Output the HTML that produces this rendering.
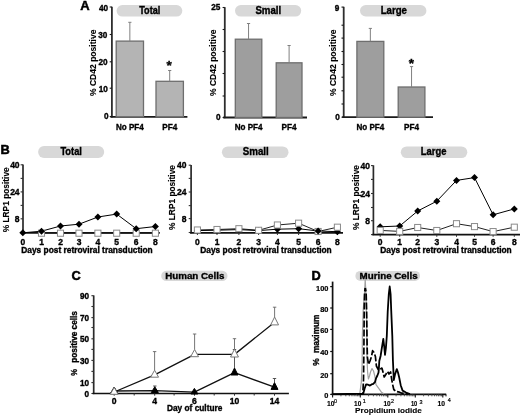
<!DOCTYPE html>
<html><head><meta charset="utf-8"><style>
html,body{margin:0;padding:0;background:#fff;width:520px;height:415px;overflow:hidden}
svg{display:block}
text{font-family:"Liberation Sans", sans-serif;stroke:#000;stroke-width:0.35px}
svg{will-change:transform}
</style></head><body>
<svg width="520" height="415" viewBox="0 0 520 415">
<rect width="520" height="415" fill="#fff"/>
<text x="80.20" y="10.20" font-size="13.0" font-weight="bold" fill="#000" style="stroke-width:0.5px">A</text>
<line x1="111.90" y1="6.70" x2="111.90" y2="117.50" stroke="#2e2e2e" stroke-width="1.8" />
<line x1="109.70" y1="7.00" x2="111.90" y2="7.00" stroke="#1a1a1a" stroke-width="1.1" />
<line x1="109.70" y1="34.50" x2="111.90" y2="34.50" stroke="#1a1a1a" stroke-width="1.1" />
<line x1="109.70" y1="61.80" x2="111.90" y2="61.80" stroke="#1a1a1a" stroke-width="1.1" />
<line x1="109.70" y1="88.20" x2="111.90" y2="88.20" stroke="#1a1a1a" stroke-width="1.1" />
<line x1="109.70" y1="116.50" x2="111.90" y2="116.50" stroke="#1a1a1a" stroke-width="1.1" />
<text x="108.00" y="10.60" font-size="8.2" font-weight="bold" fill="#000" text-anchor="end" >40</text>
<text x="107.30" y="37.90" font-size="8.2" font-weight="bold" fill="#000" text-anchor="end" >30</text>
<text x="107.50" y="65.30" font-size="8.2" font-weight="bold" fill="#000" text-anchor="end" >20</text>
<text x="107.80" y="91.70" font-size="8.2" font-weight="bold" fill="#000" text-anchor="end" >10</text>
<text x="108.60" y="119.00" font-size="8.2" font-weight="bold" fill="#000" text-anchor="end" >0</text>
<line x1="110.40" y1="116.80" x2="187.40" y2="116.80" stroke="#1a1a1a" stroke-width="1.8" />
<rect x="116.20" y="41.10" width="27.30" height="75.70" fill="#b4b4b4" stroke="#6e6e6e" stroke-width="1.3"/>
<line x1="129.85" y1="22.30" x2="129.85" y2="41.10" stroke="#808080" stroke-width="1.0" />
<line x1="128.25" y1="22.30" x2="131.45" y2="22.30" stroke="#808080" stroke-width="1.0" />
<rect x="156.00" y="81.30" width="27.40" height="35.50" fill="#b4b4b4" stroke="#6e6e6e" stroke-width="1.3"/>
<line x1="169.70" y1="70.50" x2="169.70" y2="81.30" stroke="#808080" stroke-width="1.0" />
<line x1="168.10" y1="70.50" x2="171.30" y2="70.50" stroke="#808080" stroke-width="1.0" />
<text x="169.05" y="69.80" font-size="13.5" font-weight="bold" fill="#000" text-anchor="middle" >*</text>
<rect x="116.60" y="5.00" width="65.70" height="11.60" rx="5.80" fill="#d8d8d8"/>
<text x="139.20" y="13.80" font-size="10.0" font-weight="bold" fill="#000" textLength="21.10" lengthAdjust="spacingAndGlyphs" >Total</text>
<text x="96.00" y="62.80" font-size="8.5" font-weight="bold" fill="#000" text-anchor="middle" textLength="66.40" lengthAdjust="spacingAndGlyphs" transform="rotate(-90 96.00 62.80)" style="stroke-width:0.1px">% CD42 positive</text>
<text x="129.85" y="129.50" font-size="8.6" font-weight="bold" fill="#000" text-anchor="middle" textLength="27.80" lengthAdjust="spacingAndGlyphs" >No PF4</text>
<text x="169.70" y="129.50" font-size="8.6" font-weight="bold" fill="#000" text-anchor="middle" textLength="15.00" lengthAdjust="spacingAndGlyphs" >PF4</text>
<line x1="224.80" y1="7.20" x2="224.80" y2="118.20" stroke="#2e2e2e" stroke-width="1.8" />
<line x1="222.60" y1="7.50" x2="224.80" y2="7.50" stroke="#1a1a1a" stroke-width="1.1" />
<line x1="222.60" y1="29.50" x2="224.80" y2="29.50" stroke="#1a1a1a" stroke-width="1.1" />
<line x1="222.60" y1="51.50" x2="224.80" y2="51.50" stroke="#1a1a1a" stroke-width="1.1" />
<line x1="222.60" y1="73.50" x2="224.80" y2="73.50" stroke="#1a1a1a" stroke-width="1.1" />
<line x1="222.60" y1="96.00" x2="224.80" y2="96.00" stroke="#1a1a1a" stroke-width="1.1" />
<line x1="222.60" y1="117.50" x2="224.80" y2="117.50" stroke="#1a1a1a" stroke-width="1.1" />
<text x="220.30" y="10.30" font-size="8.2" font-weight="bold" fill="#000" text-anchor="end" >25</text>
<text x="220.60" y="119.70" font-size="8.2" font-weight="bold" fill="#000" text-anchor="end" >0</text>
<line x1="223.30" y1="117.50" x2="307.00" y2="117.50" stroke="#1a1a1a" stroke-width="1.8" />
<rect x="235.30" y="39.20" width="26.50" height="78.30" fill="#9e9e9e" stroke="#6e6e6e" stroke-width="1.3"/>
<line x1="248.55" y1="23.50" x2="248.55" y2="39.20" stroke="#808080" stroke-width="1.0" />
<line x1="246.95" y1="23.50" x2="250.15" y2="23.50" stroke="#808080" stroke-width="1.0" />
<rect x="276.20" y="62.80" width="25.80" height="54.70" fill="#9e9e9e" stroke="#6e6e6e" stroke-width="1.3"/>
<line x1="289.10" y1="45.50" x2="289.10" y2="62.80" stroke="#808080" stroke-width="1.0" />
<line x1="287.50" y1="45.50" x2="290.70" y2="45.50" stroke="#808080" stroke-width="1.0" />
<rect x="235.00" y="5.10" width="66.20" height="11.50" rx="5.75" fill="#d8d8d8"/>
<text x="255.40" y="13.80" font-size="10.0" font-weight="bold" fill="#000" textLength="25.80" lengthAdjust="spacingAndGlyphs" >Small</text>
<text x="216.00" y="62.80" font-size="8.5" font-weight="bold" fill="#000" text-anchor="middle" textLength="66.40" lengthAdjust="spacingAndGlyphs" transform="rotate(-90 216.00 62.80)" style="stroke-width:0.1px">% CD42 positive</text>
<text x="248.55" y="129.50" font-size="8.6" font-weight="bold" fill="#000" text-anchor="middle" textLength="27.80" lengthAdjust="spacingAndGlyphs" >No PF4</text>
<text x="289.10" y="129.50" font-size="8.6" font-weight="bold" fill="#000" text-anchor="middle" textLength="15.00" lengthAdjust="spacingAndGlyphs" >PF4</text>
<line x1="343.70" y1="6.80" x2="343.70" y2="117.90" stroke="#2e2e2e" stroke-width="1.8" />
<line x1="341.50" y1="7.10" x2="343.70" y2="7.10" stroke="#1a1a1a" stroke-width="1.1" />
<line x1="341.50" y1="25.20" x2="343.70" y2="25.20" stroke="#1a1a1a" stroke-width="1.1" />
<line x1="341.50" y1="38.10" x2="343.70" y2="38.10" stroke="#1a1a1a" stroke-width="1.1" />
<line x1="341.50" y1="51.50" x2="343.70" y2="51.50" stroke="#1a1a1a" stroke-width="1.1" />
<line x1="341.50" y1="64.50" x2="343.70" y2="64.50" stroke="#1a1a1a" stroke-width="1.1" />
<line x1="341.50" y1="77.20" x2="343.70" y2="77.20" stroke="#1a1a1a" stroke-width="1.1" />
<line x1="341.50" y1="90.80" x2="343.70" y2="90.80" stroke="#1a1a1a" stroke-width="1.1" />
<line x1="341.50" y1="104.00" x2="343.70" y2="104.00" stroke="#1a1a1a" stroke-width="1.1" />
<line x1="341.50" y1="117.20" x2="343.70" y2="117.20" stroke="#1a1a1a" stroke-width="1.1" />
<text x="339.40" y="10.60" font-size="8.2" font-weight="bold" fill="#000" text-anchor="end" >9</text>
<text x="339.70" y="119.50" font-size="8.2" font-weight="bold" fill="#000" text-anchor="end" >0</text>
<line x1="342.20" y1="117.20" x2="433.00" y2="117.20" stroke="#1a1a1a" stroke-width="1.8" />
<rect x="356.90" y="41.40" width="26.90" height="75.80" fill="#9e9e9e" stroke="#6e6e6e" stroke-width="1.3"/>
<line x1="370.35" y1="28.40" x2="370.35" y2="41.40" stroke="#808080" stroke-width="1.0" />
<line x1="368.75" y1="28.40" x2="371.95" y2="28.40" stroke="#808080" stroke-width="1.0" />
<rect x="398.20" y="87.00" width="26.70" height="30.20" fill="#9e9e9e" stroke="#6e6e6e" stroke-width="1.3"/>
<line x1="411.55" y1="66.60" x2="411.55" y2="87.00" stroke="#808080" stroke-width="1.0" />
<line x1="409.95" y1="66.60" x2="413.15" y2="66.60" stroke="#808080" stroke-width="1.0" />
<text x="411.45" y="68.30" font-size="13.5" font-weight="bold" fill="#000" text-anchor="middle" >*</text>
<rect x="360.00" y="5.00" width="66.40" height="11.50" rx="5.75" fill="#d8d8d8"/>
<text x="380.70" y="13.60" font-size="10.0" font-weight="bold" fill="#000" textLength="26.30" lengthAdjust="spacingAndGlyphs" >Large</text>
<text x="336.00" y="62.80" font-size="8.5" font-weight="bold" fill="#000" text-anchor="middle" textLength="66.40" lengthAdjust="spacingAndGlyphs" transform="rotate(-90 336.00 62.80)" style="stroke-width:0.1px">% CD42 positive</text>
<text x="370.35" y="129.50" font-size="8.6" font-weight="bold" fill="#000" text-anchor="middle" textLength="27.80" lengthAdjust="spacingAndGlyphs" >No PF4</text>
<text x="411.55" y="129.50" font-size="8.6" font-weight="bold" fill="#000" text-anchor="middle" textLength="15.00" lengthAdjust="spacingAndGlyphs" >PF4</text>
<text x="0.40" y="153.60" font-size="12.8" font-weight="bold" fill="#000" style="stroke-width:0.5px">B</text>
<line x1="23.00" y1="164.50" x2="23.00" y2="233.40" stroke="#2a2a2a" stroke-width="1.7" />
<line x1="20.60" y1="164.80" x2="23.00" y2="164.80" stroke="#333" stroke-width="1.1" />
<line x1="20.60" y1="178.40" x2="23.00" y2="178.40" stroke="#333" stroke-width="1.1" />
<line x1="20.60" y1="191.90" x2="23.00" y2="191.90" stroke="#333" stroke-width="1.1" />
<line x1="20.60" y1="205.40" x2="23.00" y2="205.40" stroke="#333" stroke-width="1.1" />
<line x1="20.60" y1="218.80" x2="23.00" y2="218.80" stroke="#333" stroke-width="1.1" />
<line x1="20.60" y1="232.60" x2="23.00" y2="232.60" stroke="#333" stroke-width="1.1" />
<text x="19.60" y="167.80" font-size="8.5" font-weight="bold" fill="#000" text-anchor="end" >40</text>
<text x="19.60" y="194.90" font-size="8.5" font-weight="bold" fill="#000" text-anchor="end" >24</text>
<text x="19.60" y="221.80" font-size="8.5" font-weight="bold" fill="#000" text-anchor="end" >8</text>
<line x1="22.00" y1="232.90" x2="159.80" y2="232.90" stroke="#111" stroke-width="1.8" />
<line x1="22.80" y1="232.90" x2="22.80" y2="235.10" stroke="#333" stroke-width="1.0" />
<line x1="41.50" y1="232.90" x2="41.50" y2="235.10" stroke="#333" stroke-width="1.0" />
<line x1="60.50" y1="232.90" x2="60.50" y2="235.10" stroke="#333" stroke-width="1.0" />
<line x1="79.00" y1="232.90" x2="79.00" y2="235.10" stroke="#333" stroke-width="1.0" />
<line x1="97.90" y1="232.90" x2="97.90" y2="235.10" stroke="#333" stroke-width="1.0" />
<line x1="116.70" y1="232.90" x2="116.70" y2="235.10" stroke="#333" stroke-width="1.0" />
<line x1="136.20" y1="232.90" x2="136.20" y2="235.10" stroke="#333" stroke-width="1.0" />
<line x1="155.40" y1="232.90" x2="155.40" y2="235.10" stroke="#333" stroke-width="1.0" />
<text x="22.80" y="244.90" font-size="8.5" font-weight="bold" fill="#000" text-anchor="middle" >0</text>
<text x="41.50" y="244.90" font-size="8.5" font-weight="bold" fill="#000" text-anchor="middle" >1</text>
<text x="60.50" y="244.90" font-size="8.5" font-weight="bold" fill="#000" text-anchor="middle" >2</text>
<text x="79.00" y="244.90" font-size="8.5" font-weight="bold" fill="#000" text-anchor="middle" >3</text>
<text x="97.90" y="244.90" font-size="8.5" font-weight="bold" fill="#000" text-anchor="middle" >4</text>
<text x="116.70" y="244.90" font-size="8.5" font-weight="bold" fill="#000" text-anchor="middle" >5</text>
<text x="136.20" y="244.90" font-size="8.5" font-weight="bold" fill="#000" text-anchor="middle" >6</text>
<text x="155.40" y="244.90" font-size="8.5" font-weight="bold" fill="#000" text-anchor="middle" >8</text>
<text x="21.30" y="252.70" font-size="8.35" font-weight="bold" fill="#000" textLength="131.40" lengthAdjust="spacingAndGlyphs" >Days post retroviral transduction</text>
<polyline points="41.50,233.20 60.50,233.20 79.00,233.20 97.90,233.20 116.70,233.20 136.20,233.20 155.40,233.20" fill="none" stroke="#222" stroke-width="1.0" stroke-linejoin="round" />
<polyline points="22.80,232.80 41.50,231.20 60.50,226.00 79.00,224.20 97.90,217.00 116.70,214.10 136.20,228.70 155.40,226.50" fill="none" stroke="#000" stroke-width="1.0" stroke-linejoin="round" />
<rect x="38.45" y="230.15" width="6.10" height="6.10" fill="#fff" stroke="#8a8a8a" stroke-width="1"/>
<rect x="57.45" y="230.15" width="6.10" height="6.10" fill="#fff" stroke="#8a8a8a" stroke-width="1"/>
<rect x="75.95" y="230.15" width="6.10" height="6.10" fill="#fff" stroke="#8a8a8a" stroke-width="1"/>
<rect x="94.85" y="230.15" width="6.10" height="6.10" fill="#fff" stroke="#8a8a8a" stroke-width="1"/>
<rect x="113.65" y="230.15" width="6.10" height="6.10" fill="#fff" stroke="#8a8a8a" stroke-width="1"/>
<rect x="133.15" y="230.15" width="6.10" height="6.10" fill="#fff" stroke="#8a8a8a" stroke-width="1"/>
<rect x="152.35" y="230.15" width="6.10" height="6.10" fill="#fff" stroke="#8a8a8a" stroke-width="1"/>
<path d="M22.80 229.30L26.30 232.80L22.80 236.30L19.30 232.80Z" fill="#000"/>
<path d="M41.50 227.70L45.00 231.20L41.50 234.70L38.00 231.20Z" fill="#000"/>
<path d="M60.50 222.50L64.00 226.00L60.50 229.50L57.00 226.00Z" fill="#000"/>
<path d="M79.00 220.70L82.50 224.20L79.00 227.70L75.50 224.20Z" fill="#000"/>
<path d="M97.90 213.50L101.40 217.00L97.90 220.50L94.40 217.00Z" fill="#000"/>
<path d="M116.70 210.60L120.20 214.10L116.70 217.60L113.20 214.10Z" fill="#000"/>
<path d="M136.20 225.20L139.70 228.70L136.20 232.20L132.70 228.70Z" fill="#000"/>
<path d="M155.40 223.00L158.90 226.50L155.40 230.00L151.90 226.50Z" fill="#000"/>
<rect x="38.10" y="146.10" width="66.10" height="11.80" rx="5.90" fill="#d8d8d8"/>
<text x="60.40" y="154.80" font-size="10.0" font-weight="bold" fill="#000" textLength="21.50" lengthAdjust="spacingAndGlyphs" >Total</text>
<text x="9.40" y="199.80" font-size="8.6" font-weight="bold" fill="#000" text-anchor="middle" textLength="65.00" lengthAdjust="spacingAndGlyphs" transform="rotate(-90 9.40 199.80)" style="stroke-width:0.15px">% LRP1 positive</text>
<line x1="191.10" y1="164.90" x2="191.10" y2="233.30" stroke="#2a2a2a" stroke-width="1.7" />
<line x1="188.70" y1="165.20" x2="191.10" y2="165.20" stroke="#333" stroke-width="1.1" />
<line x1="188.70" y1="178.40" x2="191.10" y2="178.40" stroke="#333" stroke-width="1.1" />
<line x1="188.70" y1="192.00" x2="191.10" y2="192.00" stroke="#333" stroke-width="1.1" />
<line x1="188.70" y1="205.60" x2="191.10" y2="205.60" stroke="#333" stroke-width="1.1" />
<line x1="188.70" y1="218.60" x2="191.10" y2="218.60" stroke="#333" stroke-width="1.1" />
<line x1="188.70" y1="232.50" x2="191.10" y2="232.50" stroke="#333" stroke-width="1.1" />
<text x="186.50" y="168.20" font-size="8.5" font-weight="bold" fill="#000" text-anchor="end" >40</text>
<text x="186.50" y="195.00" font-size="8.5" font-weight="bold" fill="#000" text-anchor="end" >24</text>
<text x="186.50" y="221.60" font-size="8.5" font-weight="bold" fill="#000" text-anchor="end" >8</text>
<line x1="190.10" y1="232.80" x2="343.00" y2="232.80" stroke="#111" stroke-width="1.8" />
<line x1="197.40" y1="232.80" x2="197.40" y2="235.00" stroke="#333" stroke-width="1.0" />
<line x1="217.00" y1="232.80" x2="217.00" y2="235.00" stroke="#333" stroke-width="1.0" />
<line x1="238.90" y1="232.80" x2="238.90" y2="235.00" stroke="#333" stroke-width="1.0" />
<line x1="258.60" y1="232.80" x2="258.60" y2="235.00" stroke="#333" stroke-width="1.0" />
<line x1="277.40" y1="232.80" x2="277.40" y2="235.00" stroke="#333" stroke-width="1.0" />
<line x1="298.60" y1="232.80" x2="298.60" y2="235.00" stroke="#333" stroke-width="1.0" />
<line x1="318.10" y1="232.80" x2="318.10" y2="235.00" stroke="#333" stroke-width="1.0" />
<line x1="337.40" y1="232.80" x2="337.40" y2="235.00" stroke="#333" stroke-width="1.0" />
<text x="197.40" y="244.90" font-size="8.5" font-weight="bold" fill="#000" text-anchor="middle" >0</text>
<text x="217.00" y="244.90" font-size="8.5" font-weight="bold" fill="#000" text-anchor="middle" >1</text>
<text x="238.90" y="244.90" font-size="8.5" font-weight="bold" fill="#000" text-anchor="middle" >2</text>
<text x="258.60" y="244.90" font-size="8.5" font-weight="bold" fill="#000" text-anchor="middle" >3</text>
<text x="277.40" y="244.90" font-size="8.5" font-weight="bold" fill="#000" text-anchor="middle" >4</text>
<text x="298.60" y="244.90" font-size="8.5" font-weight="bold" fill="#000" text-anchor="middle" >5</text>
<text x="318.10" y="244.90" font-size="8.5" font-weight="bold" fill="#000" text-anchor="middle" >6</text>
<text x="337.40" y="244.90" font-size="8.5" font-weight="bold" fill="#000" text-anchor="middle" >8</text>
<text x="200.30" y="252.70" font-size="8.35" font-weight="bold" fill="#000" textLength="131.40" lengthAdjust="spacingAndGlyphs" >Days post retroviral transduction</text>
<polyline points="197.40,230.00 217.00,229.50 238.90,228.70 258.60,230.30 277.40,225.00 298.60,223.20 318.10,231.50 337.40,227.20" fill="none" stroke="#222" stroke-width="1.0" stroke-linejoin="round" />
<polyline points="197.40,230.60 217.00,230.20 238.90,229.60 258.60,230.60 277.40,229.20 298.60,228.70 318.10,231.00 337.40,231.70" fill="none" stroke="#000" stroke-width="1.0" stroke-linejoin="round" />
<path d="M197.40 227.10L200.90 230.60L197.40 234.10L193.90 230.60Z" fill="#000"/>
<path d="M217.00 226.70L220.50 230.20L217.00 233.70L213.50 230.20Z" fill="#000"/>
<path d="M238.90 226.10L242.40 229.60L238.90 233.10L235.40 229.60Z" fill="#000"/>
<path d="M258.60 227.10L262.10 230.60L258.60 234.10L255.10 230.60Z" fill="#000"/>
<path d="M277.40 225.70L280.90 229.20L277.40 232.70L273.90 229.20Z" fill="#000"/>
<path d="M298.60 225.20L302.10 228.70L298.60 232.20L295.10 228.70Z" fill="#000"/>
<path d="M337.40 228.20L340.90 231.70L337.40 235.20L333.90 231.70Z" fill="#000"/>
<rect x="194.35" y="226.95" width="6.10" height="6.10" fill="#fff" stroke="#8a8a8a" stroke-width="1"/>
<rect x="213.95" y="226.45" width="6.10" height="6.10" fill="#fff" stroke="#8a8a8a" stroke-width="1"/>
<rect x="235.85" y="225.65" width="6.10" height="6.10" fill="#fff" stroke="#8a8a8a" stroke-width="1"/>
<rect x="255.55" y="227.25" width="6.10" height="6.10" fill="#fff" stroke="#8a8a8a" stroke-width="1"/>
<rect x="274.35" y="221.95" width="6.10" height="6.10" fill="#fff" stroke="#8a8a8a" stroke-width="1"/>
<rect x="295.55" y="220.15" width="6.10" height="6.10" fill="#fff" stroke="#8a8a8a" stroke-width="1"/>
<rect x="315.05" y="228.45" width="6.10" height="6.10" fill="#fff" stroke="#8a8a8a" stroke-width="1"/>
<rect x="334.35" y="224.15" width="6.10" height="6.10" fill="#fff" stroke="#8a8a8a" stroke-width="1"/>
<path d="M318.10 227.50L321.60 231.00L318.10 234.50L314.60 231.00Z" fill="#000"/>
<rect x="221.90" y="146.40" width="66.60" height="11.70" rx="5.85" fill="#d8d8d8"/>
<text x="242.70" y="155.00" font-size="10.0" font-weight="bold" fill="#000" textLength="26.10" lengthAdjust="spacingAndGlyphs" >Small</text>
<text x="175.40" y="197.50" font-size="8.6" font-weight="bold" fill="#000" text-anchor="middle" textLength="65.00" lengthAdjust="spacingAndGlyphs" transform="rotate(-90 175.40 197.50)" style="stroke-width:0.15px">% LRP1 positive</text>
<line x1="373.40" y1="165.30" x2="373.40" y2="235.10" stroke="#2a2a2a" stroke-width="1.7" />
<line x1="371.00" y1="165.60" x2="373.40" y2="165.60" stroke="#333" stroke-width="1.1" />
<line x1="371.00" y1="179.40" x2="373.40" y2="179.40" stroke="#333" stroke-width="1.1" />
<line x1="371.00" y1="193.50" x2="373.40" y2="193.50" stroke="#333" stroke-width="1.1" />
<line x1="371.00" y1="207.50" x2="373.40" y2="207.50" stroke="#333" stroke-width="1.1" />
<line x1="371.00" y1="220.70" x2="373.40" y2="220.70" stroke="#333" stroke-width="1.1" />
<line x1="371.00" y1="234.60" x2="373.40" y2="234.60" stroke="#333" stroke-width="1.1" />
<text x="370.00" y="168.60" font-size="8.5" font-weight="bold" fill="#000" text-anchor="end" >40</text>
<text x="370.00" y="196.50" font-size="8.5" font-weight="bold" fill="#000" text-anchor="end" >24</text>
<text x="370.00" y="223.70" font-size="8.5" font-weight="bold" fill="#000" text-anchor="end" >8</text>
<line x1="372.40" y1="234.60" x2="520.00" y2="234.60" stroke="#111" stroke-width="1.8" />
<line x1="380.20" y1="234.60" x2="380.20" y2="236.80" stroke="#333" stroke-width="1.0" />
<line x1="399.70" y1="234.60" x2="399.70" y2="236.80" stroke="#333" stroke-width="1.0" />
<line x1="417.70" y1="234.60" x2="417.70" y2="236.80" stroke="#333" stroke-width="1.0" />
<line x1="436.80" y1="234.60" x2="436.80" y2="236.80" stroke="#333" stroke-width="1.0" />
<line x1="456.50" y1="234.60" x2="456.50" y2="236.80" stroke="#333" stroke-width="1.0" />
<line x1="474.50" y1="234.60" x2="474.50" y2="236.80" stroke="#333" stroke-width="1.0" />
<line x1="493.10" y1="234.60" x2="493.10" y2="236.80" stroke="#333" stroke-width="1.0" />
<line x1="514.30" y1="234.60" x2="514.30" y2="236.80" stroke="#333" stroke-width="1.0" />
<text x="380.20" y="244.90" font-size="8.5" font-weight="bold" fill="#000" text-anchor="middle" >0</text>
<text x="399.70" y="244.90" font-size="8.5" font-weight="bold" fill="#000" text-anchor="middle" >1</text>
<text x="417.70" y="244.90" font-size="8.5" font-weight="bold" fill="#000" text-anchor="middle" >2</text>
<text x="436.80" y="244.90" font-size="8.5" font-weight="bold" fill="#000" text-anchor="middle" >3</text>
<text x="456.50" y="244.90" font-size="8.5" font-weight="bold" fill="#000" text-anchor="middle" >4</text>
<text x="474.50" y="244.90" font-size="8.5" font-weight="bold" fill="#000" text-anchor="middle" >5</text>
<text x="493.10" y="244.90" font-size="8.5" font-weight="bold" fill="#000" text-anchor="middle" >6</text>
<text x="514.30" y="244.90" font-size="8.5" font-weight="bold" fill="#000" text-anchor="middle" >8</text>
<text x="380.30" y="252.70" font-size="8.35" font-weight="bold" fill="#000" textLength="131.40" lengthAdjust="spacingAndGlyphs" >Days post retroviral transduction</text>
<polyline points="380.20,230.40 399.70,231.40 417.70,227.50 436.80,230.50 456.50,223.70 474.50,226.60 493.10,231.60 514.30,227.20" fill="none" stroke="#222" stroke-width="1.0" stroke-linejoin="round" />
<polyline points="380.20,226.80 399.70,226.00 417.70,211.00 436.80,201.20 456.50,180.40 474.50,177.60 493.10,214.80 514.30,208.90" fill="none" stroke="#000" stroke-width="1.0" stroke-linejoin="round" />
<path d="M380.20 223.30L383.70 226.80L380.20 230.30L376.70 226.80Z" fill="#000"/>
<path d="M399.70 222.50L403.20 226.00L399.70 229.50L396.20 226.00Z" fill="#000"/>
<path d="M417.70 207.50L421.20 211.00L417.70 214.50L414.20 211.00Z" fill="#000"/>
<path d="M436.80 197.70L440.30 201.20L436.80 204.70L433.30 201.20Z" fill="#000"/>
<path d="M456.50 176.90L460.00 180.40L456.50 183.90L453.00 180.40Z" fill="#000"/>
<path d="M474.50 174.10L478.00 177.60L474.50 181.10L471.00 177.60Z" fill="#000"/>
<path d="M493.10 211.30L496.60 214.80L493.10 218.30L489.60 214.80Z" fill="#000"/>
<path d="M514.30 205.40L517.80 208.90L514.30 212.40L510.80 208.90Z" fill="#000"/>
<rect x="377.15" y="227.35" width="6.10" height="6.10" fill="#fff" stroke="#8a8a8a" stroke-width="1"/>
<rect x="396.65" y="228.35" width="6.10" height="6.10" fill="#fff" stroke="#8a8a8a" stroke-width="1"/>
<rect x="414.65" y="224.45" width="6.10" height="6.10" fill="#fff" stroke="#8a8a8a" stroke-width="1"/>
<rect x="433.75" y="227.45" width="6.10" height="6.10" fill="#fff" stroke="#8a8a8a" stroke-width="1"/>
<rect x="453.45" y="220.65" width="6.10" height="6.10" fill="#fff" stroke="#8a8a8a" stroke-width="1"/>
<rect x="471.45" y="223.55" width="6.10" height="6.10" fill="#fff" stroke="#8a8a8a" stroke-width="1"/>
<rect x="490.05" y="228.55" width="6.10" height="6.10" fill="#fff" stroke="#8a8a8a" stroke-width="1"/>
<rect x="511.25" y="224.15" width="6.10" height="6.10" fill="#fff" stroke="#8a8a8a" stroke-width="1"/>
<rect x="400.80" y="146.40" width="66.50" height="11.70" rx="5.85" fill="#d8d8d8"/>
<text x="420.80" y="155.00" font-size="10.0" font-weight="bold" fill="#000" textLength="25.70" lengthAdjust="spacingAndGlyphs" >Large</text>
<text x="358.90" y="197.50" font-size="8.6" font-weight="bold" fill="#000" text-anchor="middle" textLength="65.00" lengthAdjust="spacingAndGlyphs" transform="rotate(-90 358.90 197.50)" style="stroke-width:0.15px">% LRP1 positive</text>
<text x="71.40" y="280.10" font-size="12.8" font-weight="bold" fill="#000" style="stroke-width:0.5px">C</text>
<line x1="93.70" y1="295.40" x2="93.70" y2="394.10" stroke="#2a2a2a" stroke-width="1.7" />
<line x1="91.40" y1="295.70" x2="93.70" y2="295.70" stroke="#333" stroke-width="1.1" />
<line x1="91.40" y1="306.50" x2="93.70" y2="306.50" stroke="#333" stroke-width="1.1" />
<line x1="91.40" y1="317.60" x2="93.70" y2="317.60" stroke="#333" stroke-width="1.1" />
<line x1="91.40" y1="327.50" x2="93.70" y2="327.50" stroke="#333" stroke-width="1.1" />
<line x1="91.40" y1="338.80" x2="93.70" y2="338.80" stroke="#333" stroke-width="1.1" />
<line x1="91.40" y1="349.40" x2="93.70" y2="349.40" stroke="#333" stroke-width="1.1" />
<line x1="91.40" y1="360.40" x2="93.70" y2="360.40" stroke="#333" stroke-width="1.1" />
<line x1="91.40" y1="371.40" x2="93.70" y2="371.40" stroke="#333" stroke-width="1.1" />
<line x1="91.40" y1="382.60" x2="93.70" y2="382.60" stroke="#333" stroke-width="1.1" />
<line x1="91.40" y1="393.50" x2="93.70" y2="393.50" stroke="#333" stroke-width="1.1" />
<text x="89.10" y="299.20" font-size="8.2" font-weight="bold" fill="#000" text-anchor="end" >90</text>
<text x="89.10" y="321.10" font-size="8.2" font-weight="bold" fill="#000" text-anchor="end" >70</text>
<text x="89.10" y="342.30" font-size="8.2" font-weight="bold" fill="#000" text-anchor="end" >50</text>
<text x="89.10" y="363.90" font-size="8.2" font-weight="bold" fill="#000" text-anchor="end" >30</text>
<text x="89.10" y="386.10" font-size="8.2" font-weight="bold" fill="#000" text-anchor="end" >10</text>
<text x="89.10" y="397.00" font-size="8.2" font-weight="bold" fill="#000" text-anchor="end" >0</text>
<line x1="92.70" y1="393.50" x2="288.90" y2="393.50" stroke="#111" stroke-width="1.5" />
<line x1="114.20" y1="393.50" x2="114.20" y2="395.70" stroke="#333" stroke-width="1.0" />
<line x1="154.70" y1="393.50" x2="154.70" y2="395.70" stroke="#333" stroke-width="1.0" />
<line x1="194.50" y1="393.50" x2="194.50" y2="395.70" stroke="#333" stroke-width="1.0" />
<line x1="234.50" y1="393.50" x2="234.50" y2="395.70" stroke="#333" stroke-width="1.0" />
<line x1="274.50" y1="393.50" x2="274.50" y2="395.70" stroke="#333" stroke-width="1.0" />
<line x1="134.20" y1="393.50" x2="134.20" y2="395.50" stroke="#333" stroke-width="1.0" />
<line x1="174.10" y1="393.50" x2="174.10" y2="395.50" stroke="#333" stroke-width="1.0" />
<line x1="214.20" y1="393.50" x2="214.20" y2="395.50" stroke="#333" stroke-width="1.0" />
<line x1="254.20" y1="393.50" x2="254.20" y2="395.50" stroke="#333" stroke-width="1.0" />
<text x="114.20" y="404.00" font-size="8.6" font-weight="bold" fill="#000" text-anchor="middle" >0</text>
<text x="154.70" y="404.00" font-size="8.6" font-weight="bold" fill="#000" text-anchor="middle" >4</text>
<text x="194.50" y="404.00" font-size="8.6" font-weight="bold" fill="#000" text-anchor="middle" >6</text>
<text x="234.50" y="404.00" font-size="8.6" font-weight="bold" fill="#000" text-anchor="middle" >10</text>
<text x="274.50" y="404.00" font-size="8.6" font-weight="bold" fill="#000" text-anchor="middle" >14</text>
<text x="167.00" y="411.30" font-size="8.3" font-weight="bold" fill="#000" textLength="55.30" lengthAdjust="spacingAndGlyphs" >Day of culture</text>
<polyline points="114.20,392.00 154.60,374.87 194.60,354.30 234.50,354.37 274.60,322.27" fill="none" stroke="#111" stroke-width="1.3" stroke-linejoin="round" />
<polyline points="114.20,391.00 154.80,390.60 194.40,392.13 234.50,372.67 274.50,387.13" fill="none" stroke="#111" stroke-width="1.3" stroke-linejoin="round" />
<line x1="154.60" y1="351.60" x2="154.60" y2="370.20" stroke="#666" stroke-width="0.9" />
<line x1="152.90" y1="351.60" x2="156.30" y2="351.60" stroke="#666" stroke-width="0.9" />
<line x1="194.60" y1="334.00" x2="194.60" y2="349.50" stroke="#666" stroke-width="0.9" />
<line x1="192.90" y1="334.00" x2="196.30" y2="334.00" stroke="#666" stroke-width="0.9" />
<line x1="234.50" y1="338.70" x2="234.50" y2="349.10" stroke="#666" stroke-width="0.9" />
<line x1="232.80" y1="338.70" x2="236.20" y2="338.70" stroke="#666" stroke-width="0.9" />
<line x1="274.60" y1="307.20" x2="274.60" y2="317.00" stroke="#666" stroke-width="0.9" />
<line x1="272.90" y1="307.20" x2="276.30" y2="307.20" stroke="#666" stroke-width="0.9" />
<line x1="154.80" y1="386.00" x2="154.80" y2="386.80" stroke="#444" stroke-width="0.9" />
<line x1="153.10" y1="386.00" x2="156.50" y2="386.00" stroke="#444" stroke-width="0.9" />
<line x1="234.50" y1="349.50" x2="234.50" y2="368.00" stroke="#444" stroke-width="0.9" />
<line x1="232.80" y1="349.50" x2="236.20" y2="349.50" stroke="#444" stroke-width="0.9" />
<line x1="274.50" y1="378.50" x2="274.50" y2="382.60" stroke="#444" stroke-width="0.9" />
<line x1="272.80" y1="378.50" x2="276.20" y2="378.50" stroke="#444" stroke-width="0.9" />
<path d="M114.20 387.00L117.70 393.00L110.70 393.00Z" fill="#000" stroke="#000" stroke-width="1"/>
<path d="M154.80 386.80L158.30 392.50L151.30 392.50Z" fill="#000" stroke="#000" stroke-width="1"/>
<path d="M194.40 388.40L197.90 394.00L190.90 394.00Z" fill="#000" stroke="#000" stroke-width="1"/>
<path d="M234.50 368.00L238.00 375.00L231.00 375.00Z" fill="#000" stroke="#000" stroke-width="1"/>
<path d="M274.50 382.60L278.00 389.40L271.00 389.40Z" fill="#000" stroke="#000" stroke-width="1"/>
<path d="M114.20 387.40L118.15 394.30L110.25 394.30Z" fill="#fff" stroke="#777" stroke-width="1"/>
<path d="M154.60 370.20L158.55 377.20L150.65 377.20Z" fill="#fff" stroke="#777" stroke-width="1"/>
<path d="M194.60 349.50L198.55 356.70L190.65 356.70Z" fill="#fff" stroke="#777" stroke-width="1"/>
<path d="M234.50 349.10L238.45 357.00L230.55 357.00Z" fill="#fff" stroke="#777" stroke-width="1"/>
<path d="M274.60 317.00L278.55 324.90L270.65 324.90Z" fill="#fff" stroke="#777" stroke-width="1"/>
<rect x="161.20" y="270.80" width="66.30" height="10.30" rx="5.15" fill="#d8d8d8"/>
<text x="165.20" y="279.20" font-size="9.4" font-weight="bold" fill="#000" textLength="59.20" lengthAdjust="spacingAndGlyphs" >Human Cells</text>
<text x="76.80" y="336.90" font-size="9.2" font-weight="bold" fill="#000" text-anchor="middle" textLength="51.50" lengthAdjust="spacingAndGlyphs" transform="rotate(-90 76.80 336.90)" >positive cells</text>
<text x="77.20" y="372.30" font-size="9.0" font-weight="bold" fill="#000" text-anchor="middle" textLength="6.80" lengthAdjust="spacingAndGlyphs" transform="rotate(-90 77.20 372.30)" >%</text>
<text x="311.60" y="279.50" font-size="12.8" font-weight="bold" fill="#000" style="stroke-width:0.5px">D</text>
<line x1="332.60" y1="281.60" x2="332.60" y2="395.00" stroke="#111" stroke-width="1.7" />
<line x1="330.20" y1="286.60" x2="332.60" y2="286.60" stroke="#111" stroke-width="1.2" />
<line x1="330.20" y1="308.00" x2="332.60" y2="308.00" stroke="#111" stroke-width="1.2" />
<line x1="330.20" y1="329.40" x2="332.60" y2="329.40" stroke="#111" stroke-width="1.2" />
<line x1="330.20" y1="351.50" x2="332.60" y2="351.50" stroke="#111" stroke-width="1.2" />
<line x1="330.20" y1="373.70" x2="332.60" y2="373.70" stroke="#111" stroke-width="1.2" />
<line x1="330.20" y1="394.40" x2="332.60" y2="394.40" stroke="#111" stroke-width="1.2" />
<text x="328.40" y="290.50" font-size="7.4" font-weight="bold" fill="#000" text-anchor="end" style="stroke-width:0.2px">100</text>
<text x="328.40" y="311.90" font-size="7.4" font-weight="bold" fill="#000" text-anchor="end" style="stroke-width:0.2px">80</text>
<text x="328.40" y="333.30" font-size="7.4" font-weight="bold" fill="#000" text-anchor="end" style="stroke-width:0.2px">60</text>
<text x="328.40" y="355.40" font-size="7.4" font-weight="bold" fill="#000" text-anchor="end" style="stroke-width:0.2px">40</text>
<text x="328.40" y="377.60" font-size="7.4" font-weight="bold" fill="#000" text-anchor="end" style="stroke-width:0.2px">20</text>
<text x="328.40" y="398.30" font-size="7.4" font-weight="bold" fill="#000" text-anchor="end" style="stroke-width:0.2px">0</text>
<line x1="331.60" y1="394.40" x2="446.20" y2="394.40" stroke="#111" stroke-width="1.6" />
<line x1="446.00" y1="394.40" x2="446.00" y2="396.40" stroke="#111" stroke-width="1.0" />
<line x1="340.94" y1="394.40" x2="340.94" y2="396.30" stroke="#444" stroke-width="0.9" />
<line x1="345.82" y1="394.40" x2="345.82" y2="396.30" stroke="#444" stroke-width="0.9" />
<line x1="349.28" y1="394.40" x2="349.28" y2="396.30" stroke="#444" stroke-width="0.9" />
<line x1="351.96" y1="394.40" x2="351.96" y2="396.30" stroke="#444" stroke-width="0.9" />
<line x1="354.15" y1="394.40" x2="354.15" y2="396.30" stroke="#444" stroke-width="0.9" />
<line x1="356.01" y1="394.40" x2="356.01" y2="396.30" stroke="#444" stroke-width="0.9" />
<line x1="357.62" y1="394.40" x2="357.62" y2="396.30" stroke="#444" stroke-width="0.9" />
<line x1="359.03" y1="394.40" x2="359.03" y2="396.30" stroke="#444" stroke-width="0.9" />
<line x1="368.58" y1="394.40" x2="368.58" y2="396.30" stroke="#444" stroke-width="0.9" />
<line x1="373.42" y1="394.40" x2="373.42" y2="396.30" stroke="#444" stroke-width="0.9" />
<line x1="376.86" y1="394.40" x2="376.86" y2="396.30" stroke="#444" stroke-width="0.9" />
<line x1="379.52" y1="394.40" x2="379.52" y2="396.30" stroke="#444" stroke-width="0.9" />
<line x1="381.70" y1="394.40" x2="381.70" y2="396.30" stroke="#444" stroke-width="0.9" />
<line x1="383.54" y1="394.40" x2="383.54" y2="396.30" stroke="#444" stroke-width="0.9" />
<line x1="385.13" y1="394.40" x2="385.13" y2="396.30" stroke="#444" stroke-width="0.9" />
<line x1="386.54" y1="394.40" x2="386.54" y2="396.30" stroke="#444" stroke-width="0.9" />
<line x1="396.08" y1="394.40" x2="396.08" y2="396.30" stroke="#444" stroke-width="0.9" />
<line x1="400.92" y1="394.40" x2="400.92" y2="396.30" stroke="#444" stroke-width="0.9" />
<line x1="404.36" y1="394.40" x2="404.36" y2="396.30" stroke="#444" stroke-width="0.9" />
<line x1="407.02" y1="394.40" x2="407.02" y2="396.30" stroke="#444" stroke-width="0.9" />
<line x1="409.20" y1="394.40" x2="409.20" y2="396.30" stroke="#444" stroke-width="0.9" />
<line x1="411.04" y1="394.40" x2="411.04" y2="396.30" stroke="#444" stroke-width="0.9" />
<line x1="412.63" y1="394.40" x2="412.63" y2="396.30" stroke="#444" stroke-width="0.9" />
<line x1="414.04" y1="394.40" x2="414.04" y2="396.30" stroke="#444" stroke-width="0.9" />
<line x1="423.58" y1="394.40" x2="423.58" y2="396.30" stroke="#444" stroke-width="0.9" />
<line x1="428.42" y1="394.40" x2="428.42" y2="396.30" stroke="#444" stroke-width="0.9" />
<line x1="431.86" y1="394.40" x2="431.86" y2="396.30" stroke="#444" stroke-width="0.9" />
<line x1="434.52" y1="394.40" x2="434.52" y2="396.30" stroke="#444" stroke-width="0.9" />
<line x1="436.70" y1="394.40" x2="436.70" y2="396.30" stroke="#444" stroke-width="0.9" />
<line x1="438.54" y1="394.40" x2="438.54" y2="396.30" stroke="#444" stroke-width="0.9" />
<line x1="440.13" y1="394.40" x2="440.13" y2="396.30" stroke="#444" stroke-width="0.9" />
<line x1="441.54" y1="394.40" x2="441.54" y2="396.30" stroke="#444" stroke-width="0.9" />
<line x1="332.60" y1="394.40" x2="332.60" y2="397.40" stroke="#111" stroke-width="1.1" />
<line x1="360.30" y1="394.40" x2="360.30" y2="397.40" stroke="#111" stroke-width="1.1" />
<line x1="387.80" y1="394.40" x2="387.80" y2="397.40" stroke="#111" stroke-width="1.1" />
<line x1="415.30" y1="394.40" x2="415.30" y2="397.40" stroke="#111" stroke-width="1.1" />
<line x1="442.80" y1="394.40" x2="442.80" y2="397.40" stroke="#111" stroke-width="1.1" />
<text x="327.00" y="405.60" font-size="7.0" font-weight="bold" fill="#000" textLength="7.60" lengthAdjust="spacingAndGlyphs" style="stroke-width:0.15px">10</text>
<text x="334.00" y="402.90" font-size="5.4" font-weight="normal" fill="#000" style="stroke-width:0.2px">0</text>
<text x="354.10" y="405.60" font-size="7.0" font-weight="bold" fill="#000" textLength="7.20" lengthAdjust="spacingAndGlyphs" style="stroke-width:0.15px">10</text>
<text x="362.70" y="402.50" font-size="5.4" font-weight="normal" fill="#000" style="stroke-width:0.2px">1</text>
<text x="383.40" y="405.60" font-size="7.0" font-weight="bold" fill="#000" textLength="7.20" lengthAdjust="spacingAndGlyphs" style="stroke-width:0.15px">10</text>
<text x="391.10" y="402.50" font-size="5.4" font-weight="normal" fill="#000" style="stroke-width:0.2px">2</text>
<text x="410.90" y="406.10" font-size="7.0" font-weight="bold" fill="#000" textLength="6.40" lengthAdjust="spacingAndGlyphs" style="stroke-width:0.15px">10</text>
<text x="419.60" y="403.50" font-size="5.4" font-weight="normal" fill="#000" style="stroke-width:0.2px">3</text>
<text x="437.50" y="405.80" font-size="7.0" font-weight="bold" fill="#000" textLength="7.50" lengthAdjust="spacingAndGlyphs" style="stroke-width:0.15px">10</text>
<text x="447.80" y="402.00" font-size="5.4" font-weight="normal" fill="#000" style="stroke-width:0.2px">4</text>
<text x="355.00" y="413.20" font-size="8.0" font-weight="bold" fill="#000" textLength="66.90" lengthAdjust="spacingAndGlyphs" style="stroke-width:0.12px">Propidium iodide</text>
<rect x="355.40" y="270.90" width="64.60" height="10.00" rx="5.00" fill="#d8d8d8"/>
<text x="359.50" y="279.20" font-size="9.4" font-weight="bold" fill="#000" textLength="58.20" lengthAdjust="spacingAndGlyphs" >Murine Cells</text>
<text x="318.60" y="333.90" font-size="8.2" font-weight="bold" fill="#000" text-anchor="middle" textLength="38.40" lengthAdjust="spacingAndGlyphs" transform="rotate(-90 318.60 333.90)" >maximum</text>
<text x="319.20" y="362.00" font-size="9.0" font-weight="bold" fill="#000" text-anchor="middle" textLength="7.40" lengthAdjust="spacingAndGlyphs" transform="rotate(-90 319.20 362.00)" >%</text>
<polyline points="356.00,394.00 359.80,393.70 361.30,382.00 362.10,365.00 362.40,335.00 363.20,310.00 364.60,293.00 365.20,279.50 365.90,293.00 366.70,320.00 367.00,360.00 367.60,372.00 368.40,379.00 369.50,376.00 370.50,372.00 372.00,368.60 373.50,371.00 374.80,376.00 376.00,384.70 379.10,388.80 381.40,392.20 384.00,393.80" fill="none" stroke="#a0a0a0" stroke-width="1.2" stroke-linejoin="round" />
<polyline points="365.30,288.00 364.60,292.00 364.20,310.00 363.90,350.00 363.50,380.00 362.80,393.80 356.00,394.00" fill="none" stroke="#000" stroke-width="1.7" stroke-linejoin="round" stroke-dasharray="7 2" stroke-dashoffset="3.5"/>
<polyline points="365.30,288.00 366.10,292.00 366.60,310.00 367.10,345.00 367.40,357.00 368.50,364.50 370.00,361.00 371.50,356.50 372.60,350.70 374.00,352.50 375.40,356.50 376.40,366.00 378.50,370.00 381.90,368.10 383.00,372.00 384.20,377.00 385.80,374.50 387.50,371.50 389.00,374.00 390.60,372.00 391.50,378.00 392.50,384.00 393.80,389.50 396.00,391.50 399.50,392.20 402.00,393.20 408.00,394.00" fill="none" stroke="#000" stroke-width="1.7" stroke-linejoin="round" stroke-dasharray="7 2" stroke-dashoffset="3.5"/>
<polyline points="333.00,394.20 363.20,393.70 364.70,388.20 366.10,384.40 368.10,384.70 369.90,385.60 371.60,384.40 373.30,383.80 375.10,381.80 376.00,378.40 377.40,375.50 378.50,372.60 378.80,369.60 379.30,361.00 380.60,356.00 381.90,347.60 383.30,338.90 384.20,346.50 385.00,354.80 385.90,348.00 386.80,336.00 387.70,312.00 388.80,294.00 389.70,286.50 390.60,294.00 391.20,310.00 392.30,336.00 392.90,360.00 393.80,380.00 395.00,374.50 396.80,369.10 398.00,372.50 399.20,377.50 400.70,385.20 402.60,390.60 406.00,392.50 410.00,394.00" fill="none" stroke="#000" stroke-width="1.8" stroke-linejoin="round" />
</svg>
</body></html>
